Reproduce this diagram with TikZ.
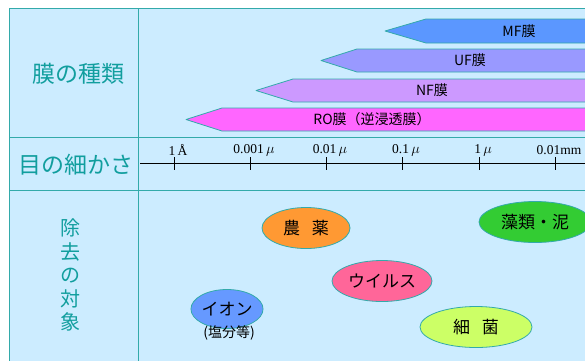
\documentclass[tikz,border=0pt]{standalone}
\usepackage{fontspec}
\setmainfont{Liberation Serif}
\newfontfamily\jp{Noto Sans CJK JP}
\usetikzlibrary{shapes.geometric}
\definecolor{waku}{HTML}{33AAAA}
\definecolor{moji}{HTML}{119E9E}
\definecolor{haikei}{HTML}{CCECFF}
\tikzset{l/.style={font=\jp\fontsize{23}{23}\selectfont,text=moji}}
\tikzset{v/.style={font=\jp\fontsize{20}{23.5}\selectfont,text=moji}}
\tikzset{m/.style={font=\jp\fontsize{14}{14}\selectfont}}
\tikzset{s/.style={font=\fontsize{13.5}{13.5}\selectfont}}
\tikzset{obj/.style={ellipse,draw=waku,line width=.8pt,inner sep=0pt,minimum height=41pt,font=\jp\fontsize{17}{17}\selectfont}}
\tikzset{mem/.style={draw=waku,line width=.8pt}}

\begin{document}
\begin{tikzpicture}[x=1pt,y=-1pt,line join=round]
          \useasboundingbox (0,0) rectangle (585,360);
          \clip (0,0) rectangle (585,360);
          % table
          \filldraw[fill=haikei,draw=waku,line width=.8pt](9,8) rectangle (600,370);
          \draw[waku,line width=.8pt](138,8)--(138,370);
          \draw[waku,line width=.8pt](9,137)--(600,137);
          \draw[waku,line width=.8pt](9,190)--(600,190);
          \node[l] (shurui) at (78,74) {膜の種類};
          \node[l] (meshlbl) at (76,165) {目の細かさ};
          \node[v,align=center] (taisho) at (70,275) {除\\去\\の\\対\\象};
          % membranes
          \filldraw[mem,fill={rgb,255:red,91;green,151;blue,255}](385,31)--(426,19)--(600,19)--(600,43)--(426,43)--cycle;
          \filldraw[mem,fill={rgb,255:red,153;green,153;blue,255}](321,60.5)--(357,49)--(600,49)--(600,72)--(357,72)--cycle;
          \filldraw[mem,fill={rgb,255:red,204;green,153;blue,255}](256,90.5)--(293,79)--(600,79)--(600,102)--(293,102)--cycle;
          \filldraw[mem,fill={rgb,255:red,255;green,102;blue,255}](186,119.5)--(222,108)--(600,108)--(600,131)--(222,131)--cycle;
          \node[m] (mf) at (519,31) {MF膜};
          \node[m] (uf) at (470,60.5) {UF膜};
          \node[m] (nf) at (432,90.5) {NF膜};
          \node[m] (ro) at (372,119.5) {RO膜（逆浸透膜）};
          % scale
          \draw[line width=.9pt](140,163)--(600,163);
          \foreach \x/\t [count=\i] in {174/1\,Å,250/0.001\,$\mu$,326/0.01\,$\mu$,402/0.1\,$\mu$,479/1\,$\mu$,555/0.01mm}{
            \draw[line width=.9pt](\x,157)--(\x,170);
            \node[s] (me\i) at (\x+4,150) {\t};
          }
          % objects
          \node[obj,fill={rgb,255:red,255;green,153;blue,51},minimum width=88pt] (noyaku) at (306,228) {農\hspace{0.7em}薬};
          \node[obj,fill={rgb,255:red,51;green,204;blue,51},minimum width=112pt] (sorui) at (535,222) {藻類・泥};
          \node[obj,fill={rgb,255:red,255;green,102;blue,153},minimum width=100pt] (virus) at (382,281) {ウイルス};
          \node[obj,fill={rgb,255:red,102;green,153;blue,255},minimum width=59pt,minimum height=39pt] (ion) at (227,309) {イオン};
          \node[m] (enbun) at (229,333) {(塩分等)};
          \node[obj,fill={rgb,255:red,204;green,255;blue,102},minimum width=112pt] (saikin) at (476,327) {細\hspace{0.7em}菌};
        \end{tikzpicture}
\end{document}
